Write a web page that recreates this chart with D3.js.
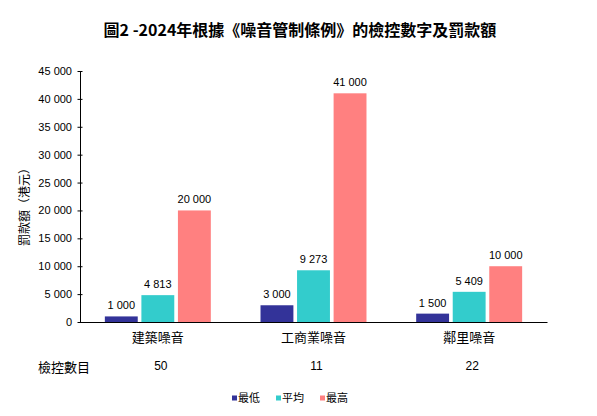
<!DOCTYPE html>
<html><head><meta charset="utf-8">
<script src="https://cdn.jsdelivr.net/npm/d3@7"></script>
<style>
body{margin:0;background:#fff;}
text{font-family:"Liberation Sans",Arial,"Noto Sans CJK TC",sans-serif;fill:#000;}
.cjk{font-family:"Noto Sans CJK TC","Liberation Sans",sans-serif;}
</style></head>
<body><svg id="c" width="597" height="416"></svg>
<script>
const title = "圖2 -2024年根據《噪音管制條例》的檢控數字及罰款額";
const categories = ["建築噪音", "工商業噪音", "鄰里噪音"];
const seriesNames = ["最低", "平均", "最高"];
const minimum = [1000, 3000, 1500];
const average = [4813, 9273, 5409];
const maximum = [20000, 41000, 10000];
const prosecutions = [50, 11, 22];
const yTicks = [0, 5000, 10000, 15000, 20000, 25000, 30000, 35000, 40000, 45000];
const yLabel = "罰款額（港元）";
const rowLabel = "檢控數目";
const colors = ["#333399", "#33CCCC", "#FF8080"];

const series = [minimum, average, maximum];
const svg = d3.select("#c");
const fmt = v => d3.format(",")(v).replace(/,/g, " ");

const x0 = d3.scaleBand().domain(categories).range([80, 547]).padding(0);
const x1 = d3.scaleBand().domain(seriesNames).range([0, x0.bandwidth()]).paddingInner(0.1).paddingOuter(0.68);
const y = d3.scaleLinear().domain([0, 45000]).range([322, 71]);

svg.append("text").attr("class","cjk").attr("x", 300).attr("y", 36)
  .attr("text-anchor","middle").attr("font-size", 16).attr("font-weight","bold").text(title);

// y axis
const yAxis = svg.append("g").attr("transform","translate(80,0)")
  .call(d3.axisLeft(y).tickValues(yTicks).tickFormat(fmt).tickSizeInner(3).tickSizeOuter(0).tickPadding(5));
yAxis.select(".domain").attr("stroke","#000");
yAxis.selectAll(".tick line").attr("x2", 2.5).attr("x1", -2.5).attr("stroke","#000");
yAxis.selectAll("text").attr("font-size", 11).attr("font-family","Liberation Sans, Arial, sans-serif").attr("fill","#000");

svg.append("text").attr("class","cjk").attr("transform","translate(29,204) rotate(-90)")
  .attr("text-anchor","middle").attr("font-size", 12).text(yLabel);

// bars
const g = svg.append("g");
categories.forEach((c, i) => {
  seriesNames.forEach((s, j) => {
    const v = series[j][i];
    const bx = x0(c) + x1(s);
    g.append("rect").attr("x", bx).attr("y", y(v)).attr("width", x1.bandwidth())
      .attr("height", y(0) - y(v)).attr("fill", colors[j]);
    g.append("text").attr("x", bx + x1.bandwidth()/2).attr("y", y(v) - 7)
      .attr("text-anchor","middle").attr("font-size", 11).text(fmt(v));
  });
});

// x axis
const xAxis = svg.append("g").attr("transform","translate(0,322)")
  .call(d3.axisBottom(x0).tickSize(0).tickPadding(11));
xAxis.select(".domain").attr("stroke","#000");
xAxis.selectAll("text").attr("font-size", 13).attr("font-family","Noto Sans CJK TC, sans-serif").attr("fill","#000");

// prosecutions row
svg.append("text").attr("class","cjk").attr("x", 38).attr("y", 372).attr("font-size", 13).text(rowLabel);
categories.forEach((c, i) => {
  svg.append("text").attr("x", x0(c) + x0.bandwidth()/2 + 3).attr("y", 370)
    .attr("text-anchor","middle").attr("font-size", 12).text(prosecutions[i]);
});

// legend
const lg = svg.append("g").attr("transform","translate(232,398)");
seriesNames.forEach((s, j) => {
  const e = lg.append("g").attr("transform", `translate(${j*44},0)`);
  e.append("rect").attr("x", 0).attr("y", -2.5).attr("width", 5).attr("height", 5).attr("fill", colors[j]);
  e.append("text").attr("class","cjk").attr("x", 6).attr("y", 4).attr("font-size", 11).text(s);
});
</script></body></html>
